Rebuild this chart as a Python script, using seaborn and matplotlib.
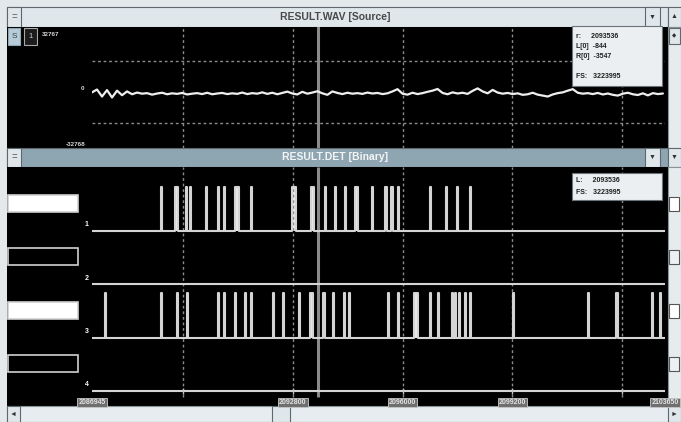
import matplotlib
matplotlib.use("Agg")
import matplotlib.pyplot as plt
from matplotlib.patches import Rectangle
import numpy as np
import pandas as pd
import seaborn as sns

# ------------------------------------------------------------------
# values (sample numbers / amplitudes)
# ------------------------------------------------------------------
x_start = 2086945
x_end = 2103650
cursor_pos = 2093536
grid_ticks = [2089600, 2092800, 2096000, 2099200, 2102400]
labelled_ticks = [2086945, 2092800, 2096000, 2099200, 2103650]

source_scale = ["32767", "0", "-32768"]
source_info = ["r:     2093536", "L[0]  -844", "R[0]  -3547", "", "FS:   3223995"]
binary_info = ["L:     2093536", "FS:   3223995"]

# source waveform, one reading every 146 samples
wave_step = 146
wave_values = [
    -200, 1300, -2400, 1000, -2900, 700, -1700, 300, -1200, -300,
    -900, -600, -1400, -800, -400, -1200, -700, -1000, -500, -1300,
    -900, -600, -1100, -400, -1200, -800, -500, -1100, -700, -1000,
    -300, -1100, -600, -900, -200, -1000, -400, -1200, -500, 200,
    -800, -1300, 100, -900, -300, 400, -700, -1500, 300, -500,
    -1100, -400, -900, -600, -1000, -300, -800, -500, -1100, -700,
    300, 1500, -900, -1400, -400, -1100, -600, 100, 700, 1600,
    -500, -1200, -200, -800, -400, -1000, 600, 1900, 300, -700,
    1100, -300, -900, -500, -1100, -700, -1500, -1200, -400, -1400,
    -1900, -2400, -1300, -600, -200, 700, 1500, -400, -900, -600,
    -1100, -500, -1300, -800, -1500, -1900, -900, -400, -1200, -1600,
    -700, -1800, -600, -1100, -800,
]

# binary channels: (start sample, length in samples)
channel_names = ["1", "2", "3", "4"]
channel_on = [True, False, True, False]
pulses_ch1 = [
    (2088957, 30), (2089365, 100), (2089686, 30), (2089803, 30),
    (2090269, 30), (2090619, 30), (2090794, 30), (2091115, 110),
    (2091581, 30), (2092777, 110), (2093331, 90), (2093739, 30),
    (2094031, 30), (2094322, 30), (2094614, 90), (2095110, 30),
    (2095489, 60), (2095664, 60), (2095868, 30), (2096801, 30),
    (2097268, 30), (2097588, 30), (2097967, 30),
]
pulses_ch3 = [
    (2087324, 30), (2088957, 30), (2089424, 30), (2089715, 30),
    (2090619, 30), (2090794, 30), (2091115, 30), (2091406, 30),
    (2091581, 30), (2092223, 30), (2092515, 30), (2092981, 30),
    (2093302, 100), (2093681, 60), (2093973, 30), (2094293, 30),
    (2094439, 30), (2095576, 30), (2095868, 30), (2096335, 100),
    (2096801, 30), (2097034, 30), (2097443, 30), (2097530, 30),
    (2097647, 30), (2097822, 30), (2097967, 30), (2099221, 30),
    (2101408, 30), (2102225, 60), (2103275, 30), (2103508, 30),
]
channel_pulses = [pulses_ch1, [], pulses_ch3, []]

# ------------------------------------------------------------------
sns.set_style("dark")
plt.rcParams["font.family"] = ["Liberation Sans", "DejaVu Sans"]

W, H = 681, 422
fig = plt.figure(figsize=(W / 100, H / 100), dpi=100, facecolor="#e3e8eb")


def px(x0, y0, x1, y1):
    return [x0 / W, 1 - y1 / H, (x1 - x0) / W, (y1 - y0) / H]


def rect(ax, x0, y0, x1, y1, fc, ec="none", lw=0.8, z=1):
    ax.add_patch(Rectangle((x0, y0), x1 - x0, y1 - y0, facecolor=fc,
                           edgecolor=ec, linewidth=lw, zorder=z))


# window chrome, pixel coordinates
ui = fig.add_axes([0, 0, 1, 1])
ui.set_xlim(0, W)
ui.set_ylim(H, 0)
ui.set_axis_off()

bar_light = "#dfe7eb"
edge = "#5f686d"

# top title bar
rect(ui, 7, 7, 668, 27, bar_light, edge)
rect(ui, 7, 7, 21, 27, bar_light, edge)
ui.text(14, 17, "=", ha="center", va="center", fontsize=7, color="#555")
rect(ui, 645, 7, 660, 27, bar_light, edge)
ui.text(652.5, 17, "▼", ha="center", va="center", fontsize=5, color="#333")
rect(ui, 668, 7, 681, 27, bar_light, edge)
ui.text(674.5, 17, "▲", ha="center", va="center", fontsize=5, color="#333")
ui.text(335, 17, "RESULT.WAV [Source]", ha="center", va="center",
        fontsize=7.5, fontweight="bold", color="#4a4a4a")

# source panel
rect(ui, 7, 27, 668, 148, "black")
rect(ui, 668, 27, 681, 148, "#e6ebee", "#8a9297")
rect(ui, 669, 28, 680, 44, bar_light, edge)
ui.text(674.5, 36, "◆", ha="center", va="center", fontsize=4, color="#333")
rect(ui, 8, 28, 20, 45, "#b7ccd8", "#8fa6b1")
ui.text(14, 37, "S", ha="center", va="center", fontsize=6, color="#34434b")
rect(ui, 24, 28, 37, 45, "#1c1c1c", "#a8a8a8")
ui.text(30.5, 37, "1", ha="center", va="center", fontsize=5.5, color="#cfcfcf")
ui.text(42, 34, source_scale[0], ha="left", va="center", fontsize=4.5,
        fontweight="bold", color="#d8d8d8")
ui.text(84, 88, source_scale[1], ha="right", va="center", fontsize=4.5,
        fontweight="bold", color="#d8d8d8")
ui.text(85, 144, source_scale[2], ha="right", va="center", fontsize=4.5,
        fontweight="bold", color="#d8d8d8")

# binary title bar
rect(ui, 7, 148, 668, 167, "#8ea6b2", edge)
rect(ui, 7, 148, 21, 167, bar_light, edge)
ui.text(14, 157.5, "=", ha="center", va="center", fontsize=7, color="#555")
rect(ui, 645, 148, 660, 167, bar_light, edge)
ui.text(652.5, 157.5, "▼", ha="center", va="center", fontsize=5, color="#333")
rect(ui, 668, 148, 681, 167, bar_light, edge)
ui.text(674.5, 157.5, "▼", ha="center", va="center", fontsize=5, color="#333")
ui.text(335, 157.5, "RESULT.DET [Binary]", ha="center", va="center",
        fontsize=7.5, fontweight="bold", color="#f4f4f4")

# binary panel
rect(ui, 7, 167, 668, 406, "black")
rect(ui, 668, 167, 681, 406, "#e6ebee", "#8a9297")

# bottom scroll bar
rect(ui, 7, 406, 681, 422, "#e6ecef", "#8a9297")
rect(ui, 7, 406, 20, 422, bar_light, edge)
ui.text(13.5, 414, "◄", ha="center", va="center", fontsize=5, color="#333")
rect(ui, 272, 406, 290, 422, bar_light, edge)
rect(ui, 668, 406, 681, 422, bar_light, edge)
ui.text(674.5, 414, "►", ha="center", va="center", fontsize=5, color="#333")

# ------------------------------------------------------------------
# source waveform
# ------------------------------------------------------------------
grid_kw = dict(color="#8c8c8c", lw=1.0, ls=(0, (2, 2)))

top = fig.add_axes(px(92, 27, 665, 148))
top.set_facecolor("none")
for g in grid_ticks:
    top.axvline(g, **grid_kw)
for h in (16384, -16384):
    top.axhline(h, **grid_kw)
top.axvline(cursor_pos, color="#8a8a8a", lw=2.2)

wave_x = x_start + np.arange(len(wave_values)) * wave_step
sns.lineplot(x=wave_x, y=wave_values, ax=top, color="#eeeeee", lw=1.6,
             estimator=None)
top.set_xlim(x_start, x_end)
top.set_ylim(-29600, 34350)
top.set_axis_off()

# ------------------------------------------------------------------
# binary channels
# ------------------------------------------------------------------
bot = fig.add_axes(px(92, 167, 665, 406))
bot.set_facecolor("none")
y_hi, y_lo, spacing = 1.44, -3.94, 1.2
px_per_unit = (406 - 167) / (y_hi - y_lo)

bot.vlines(grid_ticks, -3.74, y_hi, colors="#8c8c8c", lw=1.0,
           linestyles=[(0, (2, 2))])
bot.vlines(cursor_pos, -3.74, y_hi, colors="#8a8a8a", lw=2.2)

for k, (name, pulses) in enumerate(zip(channel_names, channel_pulses)):
    offset = -k * spacing
    xs, ys = [x_start], [0.0]
    for s, n in pulses:
        xs += [s, s, s + n, s + n]
        ys += [0.0, 1.0, 1.0, 0.0]
    xs.append(x_end)
    ys.append(0.0)
    df = pd.DataFrame({"x": xs, "y": np.array(ys) + offset})
    bot.fill_between(df["x"], offset, df["y"], color="#e8e8e8", lw=0)
    sns.lineplot(data=df, x="x", y="y", ax=bot, sort=False, estimator=None,
                 color="#d4d4d4", lw=1.5)
    bot.text(x_start - 90, offset + 0.06, name, ha="right", va="bottom",
             fontsize=5, fontweight="bold", color="white", clip_on=False)

    base_px = 167 + (y_hi - offset) * px_per_unit
    rect(ui, 8, base_px - 36, 78, base_px - 19,
         "white" if channel_on[k] else "black", "#d0d0d0", lw=1.2)
    rect(ui, 669, base_px - 34, 679, base_px - 20,
         "white" if channel_on[k] else "#eef1f3", "#555", lw=0.8)

bot.vlines(grid_ticks, -3.66, -3.54, colors="#c4c4c4", lw=1.0)
for t in labelled_ticks:
    bot.text(t, -3.78, str(t), ha="center", va="top", fontsize=5,
             fontweight="bold", color="#e4e4e4", clip_on=False,
             bbox=dict(boxstyle="square,pad=0.15", fc="#6f6f6f",
                       ec="#c8c8c8", lw=0.6))
bot.set_xlim(x_start, x_end)
bot.set_ylim(y_lo, y_hi)
bot.set_axis_off()

# ------------------------------------------------------------------
# info boxes on top
# ------------------------------------------------------------------
ov = fig.add_axes([0, 0, 1, 1])
ov.set_facecolor("none")
ov.set_xlim(0, W)
ov.set_ylim(H, 0)
ov.set_axis_off()

rect(ov, 572, 26, 662, 86, "#eceff1", "#6b7479")
for i, line in enumerate(source_info):
    ov.text(576, 37 + i * 10, line, ha="left", va="center", fontsize=5,
            fontweight="bold", color="#1e1e1e")
rect(ov, 572, 173, 662, 200, "#eceff1", "#6b7479")
for i, line in enumerate(binary_info):
    ov.text(576, 181 + i * 11, line, ha="left", va="center", fontsize=5,
            fontweight="bold", color="#1e1e1e")

fig.savefig("out.png", dpi=100, facecolor=fig.get_facecolor())
